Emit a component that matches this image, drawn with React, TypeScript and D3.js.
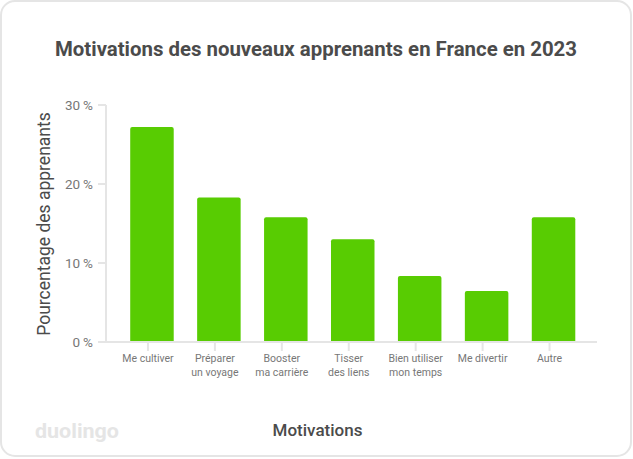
import React from "react";
import * as d3 from "d3";

const categories: string[][] = [
  ["Me cultiver"],
  ["Préparer", "un voyage"],
  ["Booster", "ma carrière"],
  ["Tisser", "des liens"],
  ["Bien utiliser", "mon temps"],
  ["Me divertir"],
  ["Autre"],
];
const values: number[] = [27.2, 18.3, 15.8, 13.0, 8.35, 6.45, 15.8];
const yTicks: number[] = [0, 10, 20, 30];

const W = 633;
const H = 459;
const GREEN = "#58cc02";
const GRID = "#e5e5e5";
const DARK = "#4b4b4b";
const MUTED = "#777777";

export default function App() {
  const x = d3
    .scaleBand<number>()
    .domain(d3.range(categories.length))
    .range([118.5, 587])
    .paddingInner(0.35)
    .paddingOuter(0.175);
  const y = d3.scaleLinear().domain([0, 30]).range([342, 105]);
  const tickOffset = -4;
  const r = 2;

  const barPath = (i: number) => {
    const x0 = x(i)!;
    const w = x.bandwidth();
    const y0 = y(values[i]);
    const yb = y(0);
    const p = d3.path();
    p.moveTo(x0, yb);
    p.lineTo(x0, y0 + r);
    p.quadraticCurveTo(x0, y0, x0 + r, y0);
    p.lineTo(x0 + w - r, y0);
    p.quadraticCurveTo(x0 + w, y0, x0 + w, y0 + r);
    p.lineTo(x0 + w, yb);
    p.closePath();
    return p.toString();
  };

  return (
    <svg
      width={W}
      height={H}
      style={{ position: "absolute", left: 0, top: 0 }}
      fontFamily="Roboto, 'DejaVu Sans', sans-serif"
    >
      <rect x={1} y={1} width={630} height={455} rx={14} fill="#fff" stroke={GRID} strokeWidth={2} />
      <text
        x={316}
        y={56}
        textAnchor="middle"
        fontSize={20}
        fontWeight={700}
        fill={DARK}
        textLength={522}
        lengthAdjust="spacingAndGlyphs"
      >
        Motivations des nouveaux apprenants en France en 2023
      </text>

      {/* y axis */}
      <line x1={106} x2={106} y1={y(30)} y2={y(0)} stroke={GRID} strokeWidth={2} />
      {yTicks.map((t) => (
        <g key={t}>
          <line x1={98} x2={106} y1={y(t)} y2={y(t)} stroke={GRID} strokeWidth={2} />
          <text x={93} y={y(t)} dy="0.35em" textAnchor="end" fontSize={13.5} fill={MUTED}>
            <tspan>{t}</tspan>
            <tspan dx={3}>%</tspan>
          </text>
        </g>
      ))}

      {/* bars */}
      {values.map((v, i) => (
        <path key={i} d={barPath(i)} fill={GREEN} />
      ))}

      {/* x axis */}
      <line x1={98} x2={597} y1={y(0)} y2={y(0)} stroke={GRID} strokeWidth={2} />
      {categories.map((lines, i) => {
        const cx = x(i)! + x.bandwidth() / 2 + tickOffset;
        return (
          <g key={i}>
            <line x1={cx} x2={cx} y1={y(0)} y2={y(0) + 9} stroke={GRID} strokeWidth={2} />
            {lines.map((l, j) => (
              <text
                key={j}
                x={cx}
                y={362 + j * 14}
                textAnchor="middle"
                fontSize={10.5}
                fill={MUTED}
              >
                {l}
              </text>
            ))}
          </g>
        );
      })}

      <text
        transform="translate(50,224) rotate(-90)"
        textAnchor="middle"
        fontSize={17.5}
        fontWeight={400}
        fill={DARK}
      >
        Pourcentage des apprenants
      </text>

      <text x={317.5} y={436} textAnchor="middle" fontSize={17} fontWeight={500} fill={DARK}>
        Motivations
      </text>

      <text x={35} y={438} fontSize={21} fontWeight={700} fill={GRID} textLength={84} lengthAdjust="spacingAndGlyphs">
        duolingo
      </text>
    </svg>
  );
}
